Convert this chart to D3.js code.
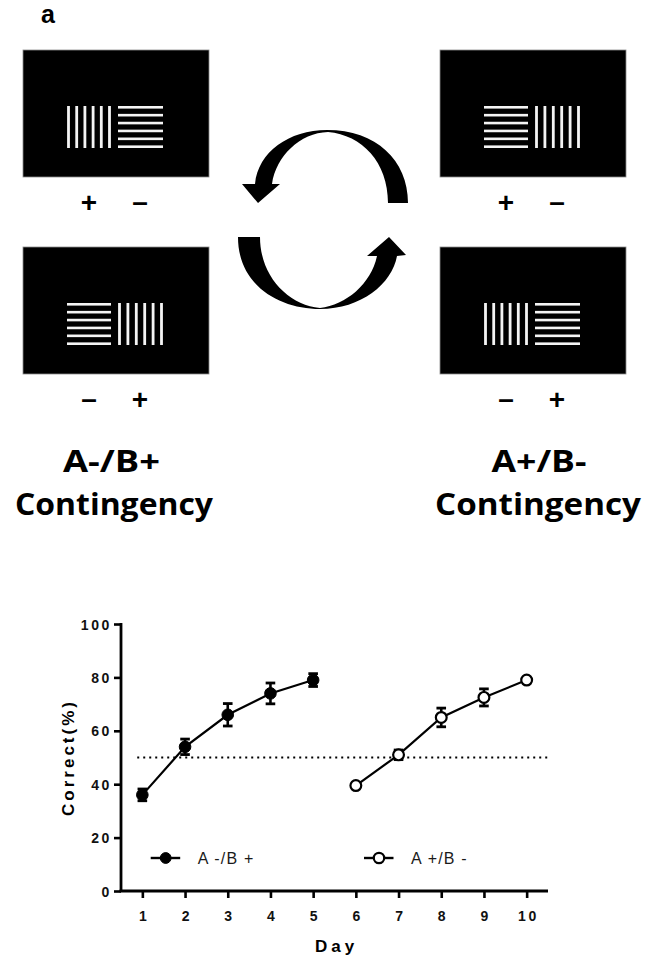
<!DOCTYPE html>
<html>
<head>
<meta charset="utf-8">
<script src="https://cdn.jsdelivr.net/npm/d3@7"></script>
<style>
  html, body { margin: 0; padding: 0; background: #fff; }
  svg { display: block; }
</style>
</head>
<body>
<svg id="fig" width="645" height="955"></svg>
<script>
// ---- Data ----
const daysAminusBplus = [1, 2, 3, 4, 5];
const meanAminusBplus = [36, 54, 66, 74, 79];
const semAminusBplus  = [2.2, 2.9, 4.2, 3.9, 2.4];

const daysAplusBminus = [6, 7, 8, 9, 10];
const meanAplusBminus = [39.5, 51, 65, 72.5, 79];
const semAplusBminus  = [0.8, 1.8, 3.5, 3.2, 0.8];

const xTickDays   = [1, 2, 3, 4, 5, 6, 7, 8, 9, 10];
const yTickValues = [0, 20, 40, 60, 80, 100];
const chanceLevel = 50;

const legendLabels = ["A -/B +", "A +/B -"];
const contingencyTitles = ["A-/B+", "A+/B-"];

// Stimulus screens: grating orientation in the left/right slot and reward sign under each
const screenGratings = [["v", "h"], ["h", "v"], ["h", "v"], ["v", "h"]];
const screenSigns    = [["+", "\u2013"], ["+", "\u2013"], ["\u2013", "+"], ["\u2013", "+"]];

// ---- Drawing ----
const svg = d3.select("#fig");

// panel letter
svg.append("text")
  .attr("x", 41).attr("y", 23)
  .style("font-family", "'Liberation Sans', Arial, sans-serif")
  .style("font-weight", "700").style("font-size", "25px")
  .text("a");

// stimulus screens
const screenOrigins = [[23, 50], [440, 50], [23, 247], [440, 247]];
const screenW = 186, screenH = 127;
const slots = [{x0: 44, x1: 88}, {x0: 95, x1: 140}];
const slotY0 = 56, slotY1 = 98;

screenOrigins.forEach(([sx, sy], i) => {
  const g = svg.append("g").attr("transform", `translate(${sx},${sy})`);
  g.append("rect").attr("width", screenW).attr("height", screenH)
    .attr("fill", "#000").attr("stroke", "#8a8a8a").attr("stroke-width", 0.8);

  screenGratings[i].forEach((ori, k) => {
    const s = slots[k];
    const idx = d3.range(6);
    if (ori === "v") {
      const xs = d3.scaleLinear().domain([0, 5]).range([s.x0 + 1.5, s.x1 - 1.5]);
      g.selectAll(null).data(idx).join("rect")
        .attr("x", d => xs(d) - 1.4).attr("y", slotY0)
        .attr("width", 2.8).attr("height", slotY1 - slotY0)
        .attr("fill", "#f4f4f4");
    } else {
      const ys = d3.scaleLinear().domain([0, 5]).range([slotY0 + 1.3, slotY1 - 1.3]);
      g.selectAll(null).data(idx).join("rect")
        .attr("x", s.x0).attr("y", d => ys(d) - 1.3)
        .attr("width", s.x1 - s.x0).attr("height", 2.6)
        .attr("fill", "#f4f4f4");
    }
  });

  screenSigns[i].forEach((sign, k) => {
    const cx = [66, 117][k];
    g.append("text")
      .attr("x", cx).attr("y", sign === "+" ? 162 : 161)
      .attr("text-anchor", "middle")
      .style("font-family", "'Liberation Sans', Arial, sans-serif")
      .style("font-weight", "700").style("font-size", "28px")
      .attr("fill", "#000")
      .text(sign);
  });
});

// reversal arrows
svg.append("path")
  .attr("d", "M408,203 C408,160 376,130 327,130 C289,130 258,152 255,184 " +
             "L242,184 L258,203 L280,184 L272,184 " +
             "C276,156 300,133 328,132 C362,135 388,162 388,203 Z")
  .attr("fill", "#000");
svg.append("path")
  .attr("d", "M238,237 C238,286 280,309 320,309 C361,309 392,284 397,256 " +
             "L406,255 L389,237 L367,256 L377,256 " +
             "C371,284 346,305 320,308 C288,305 260,276 260,237 Z")
  .attr("fill", "#000");

// contingency titles
const titleFont = "'Open Sans', Lato, sans-serif";
[[111.5, contingencyTitles[0], 97, 114, 198], [539, contingencyTitles[1], 95, 538, 206]].forEach(([tx, t, tw, cx, w]) => {
  svg.append("text").attr("x", tx).attr("y", 471.5).attr("text-anchor", "middle")
    .attr("textLength", tw).attr("lengthAdjust", "spacingAndGlyphs")
    .style("font-family", titleFont).style("font-weight", "700").style("font-size", "30px")
    .text(t);
  svg.append("text").attr("x", cx).attr("y", 515).attr("text-anchor", "middle")
    .attr("textLength", w).attr("lengthAdjust", "spacingAndGlyphs")
    .style("font-family", titleFont).style("font-weight", "700").style("font-size", "30px")
    .text("Contingency");
});

// ---- Learning curve ----
const x = d3.scaleLinear().domain([0.5, 10.5]).range([121, 548]);
const y = d3.scaleLinear().domain([0, 100]).range([891, 624]);
const axisFont = "'Liberation Sans', Arial, sans-serif";

// chance level
svg.append("line")
  .attr("x1", x(0.88)).attr("x2", x(10.5))
  .attr("y1", y(chanceLevel)).attr("y2", y(chanceLevel))
  .attr("stroke", "#000").attr("stroke-width", 2)
  .attr("stroke-dasharray", "2,4");

// y axis
const yAxis = svg.append("g").attr("transform", `translate(${x(0.5)},0)`)
  .call(d3.axisLeft(y).tickValues(yTickValues).tickSize(7).tickFormat(d3.format("d")));
yAxis.select(".domain").attr("stroke-width", 2.8).attr("d", `M0,${y(100) - 1}V${y(0)}`);
yAxis.selectAll(".tick line").attr("stroke-width", 2.6);
yAxis.selectAll(".tick text")
  .attr("x", -9).attr("dy", "0.36em")
  .style("font-family", axisFont).style("font-weight", "700").style("font-size", "14px")
  .style("letter-spacing", "2.6px").attr("fill", "#111");

// x axis
const xAxis = svg.append("g").attr("transform", `translate(0,${y(0)})`)
  .call(d3.axisBottom(x).tickValues(xTickDays).tickSize(7).tickFormat(d3.format("d")));
xAxis.select(".domain").attr("stroke-width", 2.8).attr("d", `M${x(0.5) - 1.4},0H${x(10.5)}`);
xAxis.selectAll(".tick line").attr("stroke-width", 2.6);
xAxis.selectAll(".tick text")
  .attr("y", 30).attr("dy", "0").attr("dx", "1.3px")
  .style("font-family", axisFont).style("font-weight", "700").style("font-size", "14px")
  .style("letter-spacing", "2.6px").attr("fill", "#111");

// axis titles
svg.append("text")
  .attr("x", x(5.5) + 2).attr("y", 952)
  .attr("text-anchor", "middle")
  .style("font-family", axisFont).style("font-weight", "700").style("font-size", "17px")
  .style("letter-spacing", "4px")
  .text("Day");
svg.append("text")
  .attr("transform", `translate(74,${y(50)}) rotate(-90)`)
  .attr("text-anchor", "middle")
  .style("font-family", axisFont).style("font-weight", "700").style("font-size", "17px")
  .style("letter-spacing", "3px")
  .text("Correct(%)");

// series
function drawSeries(days, means, sems, filled) {
  const pts = days.map((d, i) => ({day: d, m: means[i], e: sems[i]}));
  const g = svg.append("g");
  g.append("path").datum(pts)
    .attr("fill", "none").attr("stroke", "#000").attr("stroke-width", 2.2)
    .attr("d", d3.line().x(p => x(p.day)).y(p => y(p.m)));
  const eb = g.selectAll(".eb").data(pts).join("g");
  eb.append("line")
    .attr("x1", p => x(p.day)).attr("x2", p => x(p.day))
    .attr("y1", p => y(p.m - p.e)).attr("y2", p => y(p.m + p.e))
    .attr("stroke", "#000").attr("stroke-width", 2.6);
  [-1, 1].forEach(sgn => {
    eb.append("line")
      .attr("x1", p => x(p.day) - 4.8).attr("x2", p => x(p.day) + 4.8)
      .attr("y1", p => y(p.m + sgn * p.e)).attr("y2", p => y(p.m + sgn * p.e))
      .attr("stroke", "#000").attr("stroke-width", 2.8);
  });
  g.selectAll(".pt").data(pts).join("circle")
    .attr("cx", p => x(p.day)).attr("cy", p => y(p.m))
    .attr("r", filled ? 5.8 : 5.4)
    .attr("fill", filled ? "#000" : "#fff")
    .attr("stroke", "#000").attr("stroke-width", filled ? 1 : 2.2);
}
drawSeries(daysAminusBplus, meanAminusBplus, semAminusBplus, true);
drawSeries(daysAplusBminus, meanAplusBminus, semAplusBminus, false);

// legend
[[150.7, legendLabels[0], true], [364, legendLabels[1], false]].forEach(([lx, label, filled]) => {
  const ly = 858;
  svg.append("line").attr("x1", lx).attr("x2", lx + 29.5).attr("y1", ly).attr("y2", ly)
    .attr("stroke", "#000").attr("stroke-width", 2.4);
  svg.append("circle").attr("cx", lx + 15).attr("cy", ly)
    .attr("r", filled ? 5.4 : 5.2)
    .attr("fill", filled ? "#000" : "#fff")
    .attr("stroke", "#000").attr("stroke-width", filled ? 1 : 2.2);
  svg.append("text").attr("x", lx + 47).attr("y", ly + 6)
    .style("font-family", axisFont).style("font-size", "16px")
    .style("letter-spacing", "1.2px").attr("fill", "#1a1a1a")
    .text(label);
});
</script>
</body>
</html>
